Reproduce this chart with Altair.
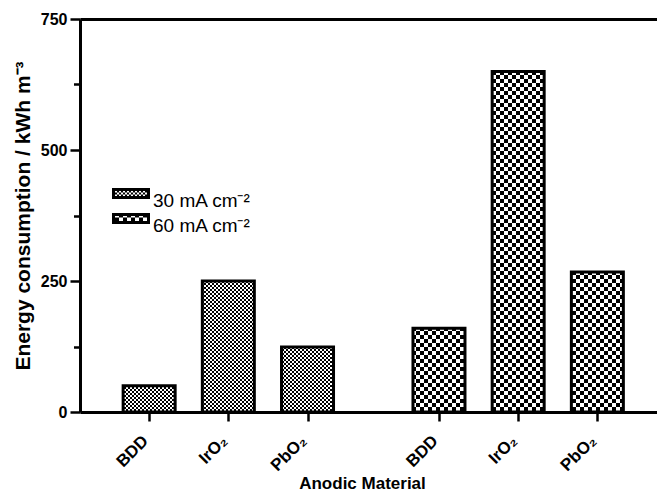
import json
import altair as alt
import pandas as pd
import jinja2

# ---------------- data ----------------
materials = ["BDD", "IrO₂", "PbO₂"]
densities = ["30 mA cm⁻²", "60 mA cm⁻²"]
energy_30 = [50, 250, 124]
energy_60 = [160, 650, 267]
y_ticks = [0, 125, 250, 375, 500, 625, 750]

# ---------------- layout / style constants ----------------
GROUP_GAP = 3.66          # distance (in bar slots) between first bars of the two groups
X_DOMAIN = [-0.81, 6.35]
FONT = "Liberation Sans"

rows = []
for g, (dens, vals) in enumerate(zip(densities, [energy_30, energy_60])):
    for m, (mat, v) in enumerate(zip(materials, vals)):
        rows.append({"material": mat, "density": dens, "energy": v, "g": g, "m": m})
df = pd.DataFrame(rows)

tick_pos = [m + g * GROUP_GAP for g in range(len(densities)) for m in range(len(materials))]
label_expr = (
    json.dumps(materials, ensure_ascii=False)
    + f"[round(datum.value - (datum.value > 2.5 ? {GROUP_GAP} : 0))]"
)

base = alt.Chart(df).transform_calculate(pos=f"datum.m + datum.g * {GROUP_GAP}")

bars = base.mark_bar(size=52, stroke="black", strokeWidth=3, strokeJoin="miter").encode(
    x=alt.X(
        "pos:Q",
        scale=alt.Scale(domain=X_DOMAIN, nice=False, zero=False),
        axis=alt.Axis(
            values=tick_pos,
            labelExpr=label_expr,
            labelAngle=-45,
            labelFontSize=17,
            labelFontWeight="bold",
            labelBaseline="middle",
            labelPadding=17,
            labelOffset=-4,
            tickSize=9,
            tickWidth=2.5,
            domainWidth=3,
            title="Anodic Material",
            titleFontSize=17,
            titleFontWeight="bold",
            titleX=282,
            titleY=63,
        ),
    ),
    y=alt.Y(
        "energy:Q",
        scale=alt.Scale(domain=[0, 750], nice=False),
        axis=alt.Axis(
            values=y_ticks,
            labelExpr="datum.value % 250 === 0 ? datum.value : ''",
            labelFontSize=16,
            labelFontWeight="bold",
            labelPadding=3,
            tickSize=10,
            tickWidth=2.5,
            tickDash={"condition": {"test": "datum.value % 250 !== 0", "value": [6.5, 40]},
                      "value": [100, 0]},
            domainWidth=3,
            title="Energy consumption / kWh m⁻³",
            titleFontSize=21,
            titleFontWeight="bold",
            titleX=-47,
        ),
    ),
    fill=alt.Fill(
        "density:N",
        scale=alt.Scale(domain=densities, range=["url(#chk30)", "url(#chk60)"]),
        legend=alt.Legend(
            title=None,
            orient="none",
            legendX=31,
            legendY=169,
            clipHeight=25,
            symbolType="M-2.5,-1.57L2.5,-1.57L2.5,-0.43L-2.5,-0.43Z",
            symbolSize=196,
            symbolOffset=10.5,
            symbolStrokeColor="black",
            symbolStrokeWidth=3,
            labelFontSize=19,
            labelFont=FONT,
            labelColor="black",
            labelBaseline="middle",
            labelOffset=12.5,
            rowPadding=0,
            padding=0,
        ),
    ),
)

frame = base.mark_bar(opacity=0).encode(
    x=alt.X(
        "pos:Q",
        axis=alt.Axis(orient="top", labels=False, ticks=False, title=None,
                      domainWidth=3, domainColor="black"),
    ),
)

chart = (
    alt.layer(bars, frame)
    .resolve_axis(x="independent")
    .properties(
        width=577,
        height=393,
        padding={"left": 72, "top": 11, "right": 0, "bottom": 79},
        autosize=alt.AutoSizeParams(type="none"),
    )
    .configure_view(stroke=None)
    .configure_axis(
        grid=False,
        labelFont=FONT,
        titleFont=FONT,
        labelColor="black",
        titleColor="black",
        domainColor="black",
        tickColor="black",
    )
)

TEMPLATE = jinja2.Template("""<!DOCTYPE html>
<html>
<head>
  <style>
    body { margin: 8px 8px 0 8px; }
    #{{ output_div }}.vega-embed { width: 100%; display: flex; }
    #{{ output_div }} svg { overflow: visible; }
  </style>
  <script type="text/javascript" src="{{ base_url }}/vega@{{ vega_version }}"></script>
  <script type="text/javascript" src="{{ base_url }}/vega-lite@{{ vegalite_version }}"></script>
  <script type="text/javascript" src="{{ base_url }}/vega-embed@{{ vegaembed_version }}"></script>
</head>
<body>
  <svg width="0" height="0" style="position:absolute">
    <defs>
      <pattern id="chk30" width="4" height="4" patternUnits="userSpaceOnUse">
        <rect width="4" height="4" fill="#ffffff"/>
        <rect width="2" height="2" fill="#000000"/>
        <rect x="2" y="2" width="2" height="2" fill="#000000"/>
      </pattern>
      <pattern id="chk60" width="8" height="8" patternUnits="userSpaceOnUse">
        <rect width="8" height="8" fill="#ffffff"/>
        <rect width="4" height="4" fill="#000000"/>
        <rect x="4" y="4" width="4" height="4" fill="#000000"/>
      </pattern>
    </defs>
  </svg>
  <div id="{{ output_div }}"></div>
  <script>
    (function(vegaEmbed) {
      var spec = {{ spec }};
      var embedOpt = {{ embed_options }};
      function showError(el, error){
          el.innerHTML = ('<div style="color:red;"><p>JavaScript Error: ' + error.message + '</p></div>');
          throw error;
      }
      const el = document.getElementById('{{ output_div }}');
      vegaEmbed("#{{ output_div }}", spec, embedOpt).catch(error => showError(el, error));
    })(vegaEmbed);
  </script>
</body>
</html>
""")

chart.save("out.html", embed_options={"renderer": "svg", "actions": False}, template=TEMPLATE)
